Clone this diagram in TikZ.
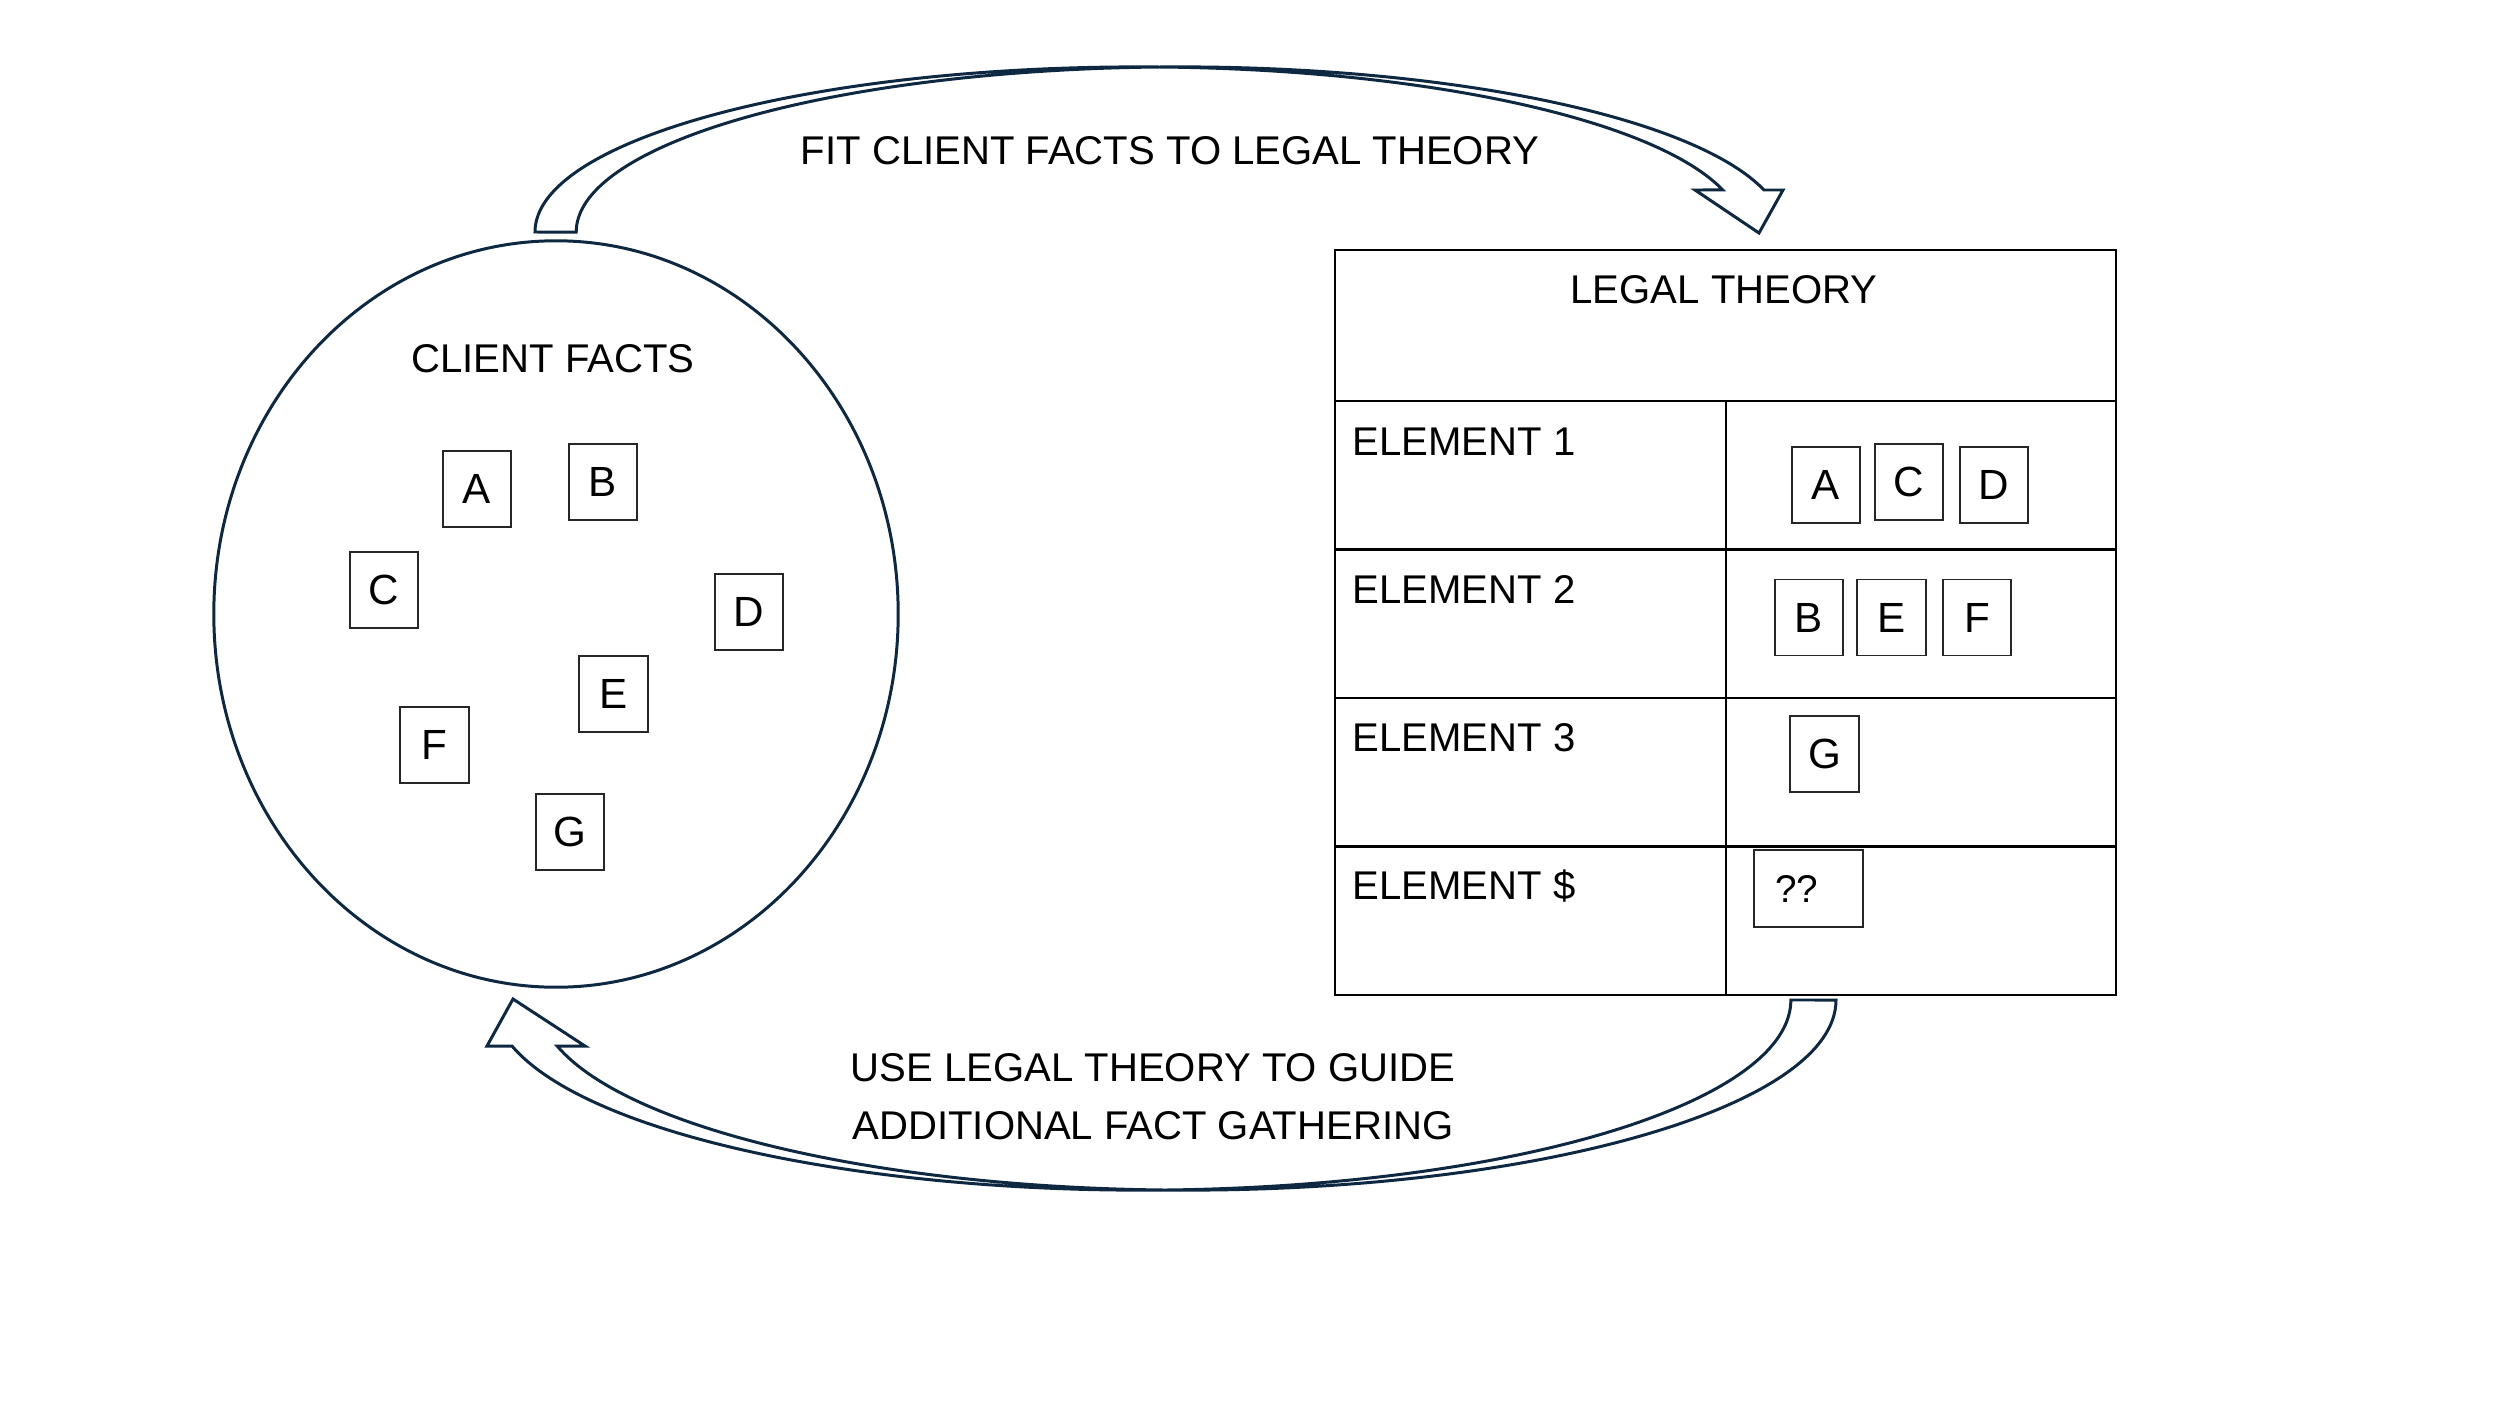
\documentclass[tikz,border=0pt]{standalone}
\usepackage{fontspec}
\setmainfont{Liberation Sans}
\usetikzlibrary{shapes.geometric}
\definecolor{navy}{HTML}{0E2841}
\begin{document}
\begin{tikzpicture}[x=0.01cm,y=-0.01cm,
  lbl/.style={font=\fontsize{11.4}{13.7}\selectfont, inner sep=0pt},
  factbox/.style={draw=black!85, line width=0.55pt, minimum width=19.4pt, minimum height=21.6pt, inner sep=0pt, font=\fontsize{12}{14}\selectfont},
  arrowshape/.style={draw=navy, line width=0.85pt, line join=miter},
  tbl/.style={draw=black, line width=0.7pt}]
\useasboundingbox (0,0) rectangle (2500,1406);
\fill[white] (0,0) rectangle (2500,1406);

% client facts
\node (facts) [ellipse, draw=navy, line width=0.85pt, minimum width=6.84cm, minimum height=7.46cm, inner sep=0pt] at (556,614) {};
\node (factstitle) [lbl, anchor=base] at (553,372) {CLIENT FACTS};
\node (fa) [factbox] at (477,489) {A};
\node (fb) [factbox] at (603,482) {B};
\node (fc) [factbox] at (384,590) {C};
\node (fd) [factbox] at (749,612) {D};
\node (fe) [factbox] at (613.5,694) {E};
\node (ff) [factbox] at (434.5,745) {F};
\node (fg) [factbox] at (570,832) {G};

% legal theory table
\draw[tbl] (1335,250) rectangle (2116,995);
\draw[tbl] (1335,401) -- (2116,401);
\draw[tbl] (1335,549.5) -- (2116,549.5);
\draw[tbl] (1335,698) -- (2116,698);
\draw[tbl] (1335,846.5) -- (2116,846.5);
\draw[tbl] (1726,401) -- (1726,995);
\node (lt) [lbl, anchor=base] at (1724,303) {LEGAL THEORY};
\node (e1) [lbl, anchor=base west] at (1352,455) {ELEMENT 1};
\node (e2) [lbl, anchor=base west] at (1352,603) {ELEMENT 2};
\node (e3) [lbl, anchor=base west] at (1352,751) {ELEMENT 3};
\node (e4) [lbl, anchor=base west] at (1352,899) {ELEMENT \$};
\node (ta) [factbox] at (1826,485) {A};
\node (tc) [factbox] at (1909,482) {C};
\node (td) [factbox] at (1994,485) {D};
\node (tb) [factbox] at (1809,617.5) {B};
\node (te) [factbox] at (1891.5,617.5) {E};
\node (tf) [factbox] at (1977,617.5) {F};
\node (tg) [factbox] at (1824.5,754) {G};
\node (tq) [draw=black!85, line width=0.55pt, minimum height=21.9pt, inner xsep=6pt, inner ysep=0pt, text width=19pt, align=left, font=\fontsize{11}{13}\selectfont] at (1808.5,888.5) {??};

% top curved arrow
\draw[arrowshape] (535,232) arc[start angle=180, end angle=14.75, x radius=6.035cm, y radius=1.65cm]
  -- (1695,190) -- (1759,233) -- (1783,190) -- (1764,190)
  arc[start angle=14.75, end angle=180, x radius=6.035cm, y radius=1.65cm] -- cycle;
\node (toplbl) [lbl, anchor=base] at (1170,164) {FIT CLIENT FACTS TO LEGAL THEORY};

% bottom curved arrow
\draw[arrowshape] (1836,1000) arc[start angle=0, end angle=-165.99, x radius=6.487cm, y radius=1.9cm]
  -- (585,1046) -- (513,999) -- (487,1046) -- (512,1046)
  arc[start angle=194.01, end angle=360, x radius=6.487cm, y radius=1.9cm] -- cycle;
\node (botlbl1) [lbl, anchor=base] at (1153,1081) {USE LEGAL THEORY TO GUIDE};
\node (botlbl2) [lbl, anchor=base] at (1153,1139) {ADDITIONAL FACT GATHERING};
\end{tikzpicture}
\end{document}
